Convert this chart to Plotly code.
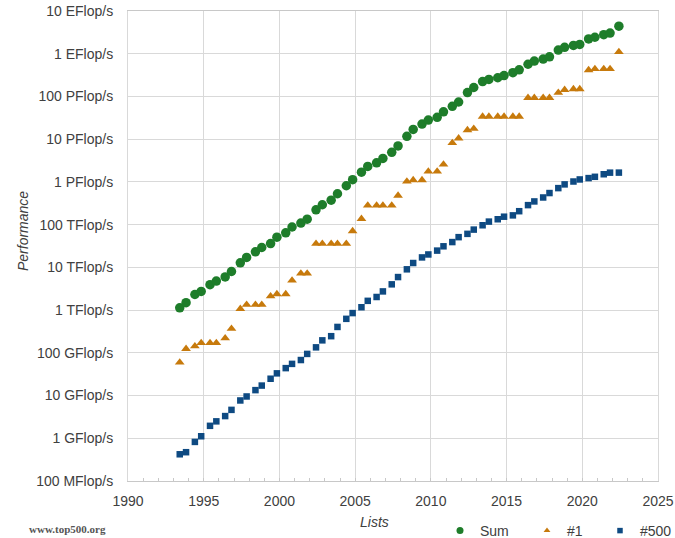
import plotly.graph_objects as go

# TOP500 list dates (June / November), 1993-06 .. 2022-06
list_years = list(range(1993, 2023))
list_months = [6, 11]

# Performance values in GFlop/s
sum_gflops = [1128, 1493, 2317, 2732, 3929, 4784, 5971, 7998, 12750, 17080,
              23043, 29170, 35945, 50749, 64241, 88095, 108654, 134379, 222000, 292000,
              374000, 528000, 813000, 1127000, 1690000, 2300000, 2790000, 3540000, 4920000, 6970000,
              11700000, 16950000, 22600000, 27950000, 32400000, 43700000, 58900000, 74200000,
              123000000, 162000000, 223000000, 250000000, 274000000, 309000000, 361000000,
              420000000, 567000000, 672000000, 749000000, 845000000, 1220000000, 1410000000,
              1560000000, 1650000000, 2220000000, 2430000000, 2790000000, 3040000000, 4400000000]

top1_gflops = [59.7, 124.5, 143.4, 170.4, 170.4, 170.4, 220.4, 368.2, 1068, 1338,
               1338, 1338, 2121, 2379, 2379, 4938, 7226, 7226, 35860, 35860,
               35860, 35860, 35860, 70720, 136800, 280600, 280600, 280600, 280600, 478200,
               1026000, 1105000, 1105000, 1759000, 1759000, 2566000, 8162000, 10510000,
               16320000, 17590000, 33860000, 33860000, 33860000, 33860000, 33860000,
               33860000, 93010000, 93010000, 93010000, 93010000, 122300000, 143500000,
               148600000, 148600000, 415530000, 442010000, 442010000, 442010000, 1102000000]

top500_gflops = [0.422, 0.472, 0.822, 1.114, 1.955, 2.489, 3.306, 4.620, 7.670, 9.513,
                 13.39, 17.12, 24.73, 33.08, 43.82, 55.10, 67.78, 94.30, 134.3, 195.8,
                 245.1, 403.4, 624.0, 850.6, 1166, 1646, 2026, 2737, 4005, 5929,
                 9000, 12640, 17090, 20050, 24670, 31120, 39090, 50940,
                 60830, 76500, 96620, 117800, 133700, 153400, 164800,
                 206300, 286100, 349300, 432200, 548700, 715600, 874800,
                 1022000, 1142000, 1228000, 1317000, 1511000, 1646000, 1650000]

y_tick_vals = [0.1, 1, 10, 100, 1e3, 1e4, 1e5, 1e6, 1e7, 1e8, 1e9, 1e10]
y_tick_text = ["100 MFlop/s", "1 GFlop/s", "10 GFlop/s", "100 GFlop/s", "1 TFlop/s",
               "10 TFlop/s", "100 TFlop/s", "1 PFlop/s", "10 PFlop/s", "100 PFlop/s",
               "1 EFlop/s", "10 EFlop/s"]

# decimal year of each list
list_x = []
for yr in list_years:
    for m in list_months:
        if yr == 2022 and m == 11:
            continue
        list_x.append(yr + (m - 1) / 12)

GREEN = "#1e7d2a"
ORANGE = "#c77a0c"
BLUE = "#0e4a82"
TXT = "#404040"
GRID = "#d9d9d9"
FONT = "Liberation Sans, Arial, sans-serif"

W, H = 675, 538
L, R, T, B = 128, 17, 11, 57
PW, PH = W - L - R, H - T - B


def px_x(px):  # pixel -> paper coordinate
    return (px - L) / PW


def px_y(py):
    return (H - B - py) / PH


fig = go.Figure()
fig.add_trace(go.Scatter(x=list_x, y=sum_gflops, mode="markers", name="Sum",
                         marker=dict(symbol="circle", size=9.5, color=GREEN), showlegend=False))
fig.add_trace(go.Scatter(x=list_x, y=top1_gflops, mode="markers", name="#1",
                         marker=dict(symbol="triangle-up", size=8.5, color=ORANGE), showlegend=False))
fig.add_trace(go.Scatter(x=list_x, y=top500_gflops, mode="markers", name="#500",
                         marker=dict(symbol="square", size=6.5, color=BLUE), showlegend=False))

# legend entries, one legend each so they can be placed like the reference
legend_items = [("Sum", "circle", 7, GREEN, "legend", 460),
                ("#1", "triangle-up", 6, ORANGE, "legend2", 547),
                ("#500", "square", 5.5, BLUE, "legend3", 620)]
for nm, sym, sz, col, lg, _ in legend_items:
    fig.add_trace(go.Scatter(x=[None], y=[None], mode="markers", name=nm, legend=lg,
                             marker=dict(symbol=sym, size=sz, color=col)))

leg_common = dict(orientation="h", xanchor="left", yanchor="middle",
                  font=dict(size=14, color=TXT), bgcolor="rgba(0,0,0,0)", itemsizing="trace")
layout_legends = {}
for nm, sym, sz, col, lg, sx in legend_items:
    layout_legends[lg] = dict(leg_common, x=px_x(sx - 20), y=px_y(531))

fig.update_layout(
    width=W, height=H,
    margin=dict(l=L, r=R, t=T, b=B, autoexpand=False),
    paper_bgcolor="white", plot_bgcolor="white",
    font=dict(family=FONT, size=14, color=TXT),
    xaxis=dict(range=[1990, 2025], dtick=5, tick0=1990, showgrid=True, gridcolor=GRID,
               showline=True, linecolor="#c8c8c8", mirror=True, zeroline=False,
               ticks="inside", ticklen=3, tickcolor="#c8c8c8", automargin=False,
               minor=dict(dtick=1, ticks="inside", ticklen=3, tickcolor="#c8c8c8", showgrid=False),
               tickfont=dict(size=14, color=TXT), ticklabelstandoff=7,
               ticklabeloverflow="allow"),
    yaxis=dict(type="log", range=[-1, 10], tickvals=y_tick_vals, ticktext=y_tick_text,
               showgrid=True, gridcolor=GRID, showline=True, linecolor=GRID, mirror=True,
               zeroline=False, ticks="", tickfont=dict(size=14, color=TXT), automargin=False,
               ticklabelstandoff=11, ticklabeloverflow="allow"),
    **layout_legends,
)

fig.add_annotation(text="<i>Performance</i>", xref="paper", yref="paper",
                   x=px_x(23), y=px_y(231), textangle=-90,
                   showarrow=False, font=dict(size=14, color=TXT), xanchor="center", yanchor="middle")
fig.add_annotation(text="<i>Lists</i>", xref="paper", yref="paper",
                   x=px_x(374), y=px_y(522),
                   showarrow=False, font=dict(size=14, color=TXT), xanchor="center", yanchor="middle")
fig.add_annotation(text="<b>www.top500.org</b>", xref="paper", yref="paper",
                   x=px_x(27), y=px_y(529),
                   showarrow=False, font=dict(size=11, color="#555555",
                                              family="Liberation Serif, Times New Roman, serif"),
                   xanchor="left", yanchor="middle")

# remove the default page margin so the 675x538 figure fills the window exactly
fig.write_html("out.html", config={"displayModeBar": False},
               post_script="document.body.style.margin='0px';")
